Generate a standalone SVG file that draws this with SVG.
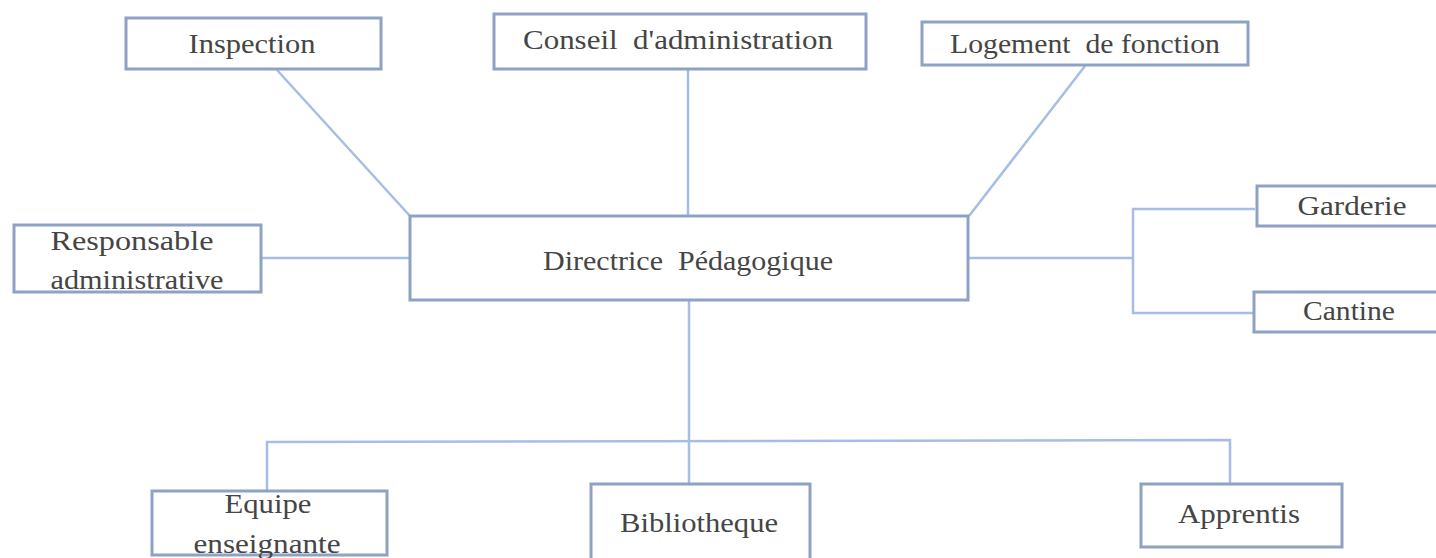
<svg xmlns="http://www.w3.org/2000/svg" width="1436" height="558" viewBox="0 0 1436 558" xml:space="preserve">
<style>
.box{fill:#ffffff;stroke:#8ea2c4;stroke-width:3}
.c{fill:none;stroke:#a6bde4;stroke-width:2.5}
text{font-family:"Liberation Serif","Times New Roman",serif;font-size:27px;fill:#454545;text-anchor:middle;white-space:pre}
</style>
<rect width="1436" height="558" fill="#ffffff"/>
<g id="connectors">
<line class="c" x1="277" y1="70" x2="410" y2="216"/>
<line class="c" x1="688" y1="69" x2="688" y2="216"/>
<line class="c" x1="1085" y1="66" x2="969" y2="216"/>
<line class="c" x1="252" y1="258" x2="410" y2="258"/>
<polyline class="c" points="968,258 1133,258"/>
<polyline class="c" points="1255,209 1133,209 1133,313 1253,313"/>
<line class="c" x1="689" y1="300" x2="689" y2="484"/>
<polyline class="c" points="267,491 267,442 1230,440 1230,484"/>
</g>
<g id="inspection"><rect class="box" x="126" y="18" width="255" height="51"/><text x="252" y="53" textLength="127" lengthAdjust="spacingAndGlyphs">Inspection</text></g>
<g id="conseil"><rect class="box" x="494" y="14" width="372" height="55"/><text x="678" y="49" textLength="310" lengthAdjust="spacingAndGlyphs">Conseil  d'administration</text></g>
<g id="logement"><rect class="box" x="922" y="22" width="326" height="43"/><text x="1085" y="53" textLength="270" lengthAdjust="spacingAndGlyphs">Logement  de fonction</text></g>
<g id="directrice"><rect class="box" x="410" y="216" width="558" height="84"/><text x="688" y="270" textLength="290" lengthAdjust="spacingAndGlyphs">Directrice  Pédagogique</text></g>
<g id="responsable"><rect class="box" x="14" y="225" width="247" height="67"/><text x="132" y="250" textLength="163" lengthAdjust="spacingAndGlyphs">Responsable</text><text x="137" y="289" textLength="173" lengthAdjust="spacingAndGlyphs">administrative</text></g>
<g id="garderie"><rect class="box" x="1257" y="186" width="185" height="40"/><text x="1352" y="215" textLength="109" lengthAdjust="spacingAndGlyphs">Garderie</text></g>
<g id="cantine"><rect class="box" x="1254" y="292" width="188" height="40"/><text x="1349" y="320" textLength="92" lengthAdjust="spacingAndGlyphs">Cantine</text></g>
<g id="equipe"><rect class="box" x="152" y="491" width="235" height="64"/><text x="268" y="513" textLength="87" lengthAdjust="spacingAndGlyphs">Equipe</text><text x="267" y="553" textLength="147" lengthAdjust="spacingAndGlyphs">enseignante</text></g>
<g id="bibliotheque"><rect class="box" x="591" y="484" width="219" height="80"/><text x="699" y="532" textLength="158" lengthAdjust="spacingAndGlyphs">Bibliotheque</text></g>
<g id="apprentis"><rect class="box" x="1141" y="484" width="201" height="63"/><text x="1239" y="523" textLength="122" lengthAdjust="spacingAndGlyphs">Apprentis</text></g>
</svg>
